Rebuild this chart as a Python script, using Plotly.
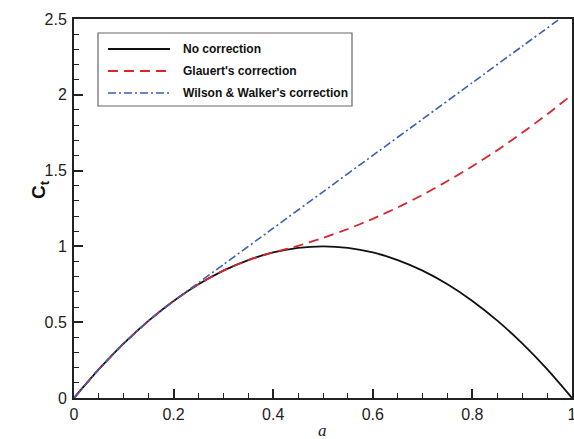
import plotly.graph_objects as go

# Axial induction factor a
a_vals = [0.00, 0.05, 0.10, 0.15, 0.20, 0.25, 0.30, 0.35, 0.40, 0.45, 0.50,
          0.55, 0.60, 0.65, 0.70, 0.75, 0.80, 0.85, 0.90, 0.95, 1.00]
# Thrust coefficient, no correction
ct_none = [0.00, 0.19, 0.36, 0.51, 0.64, 0.75, 0.84, 0.91, 0.96, 0.99, 1.00,
           0.99, 0.96, 0.91, 0.84, 0.75, 0.64, 0.51, 0.36, 0.19, 0.00]
# Glauert's correction
ct_glauert = [0.00, 0.19, 0.36, 0.51, 0.64, 0.75, 0.84, 0.91, 0.96, 1.004, 1.056,
              1.115, 1.182, 1.257, 1.340, 1.431, 1.529, 1.635, 1.749, 1.871, 2.00]
# Wilson & Walker's correction
a_ww = [0.00, 0.05, 0.10, 0.15, 0.20, 0.25, 0.30, 0.40, 0.50, 0.60, 0.70, 0.80, 0.90, 1.00]
ct_ww = [0.00, 0.19, 0.36, 0.51, 0.64, 0.76, 0.88, 1.12, 1.36, 1.60, 1.84, 2.08, 2.32, 2.56]

names = ["No correction", "Glauert's correction", "Wilson & Walker's correction"]
colors = ["#111111", "#d7262b", "#3a5fb5"]
dashes = ["solid", "10px,6px", "8px,3px,2px,3px"]
widths = [1.8, 1.8, 1.6]

W, H = 574, 439
L, R, T, B = 74, 2, 19, 41
pw, ph = W - L - R, H - T - B

# helpers to convert page pixel positions into paper coordinates
def px(x):
    return (x - L) / pw

def py(y):
    return (H - B - y) / ph

fig = go.Figure()
series = [(a_vals, ct_none), (a_vals, ct_glauert), (a_ww, ct_ww)]
for (xs, ys), n, c, d, w in zip(series, names, colors, dashes, widths):
    fig.add_trace(go.Scatter(x=xs, y=ys, mode="lines", name=n,
                             line=dict(color=c, dash=d, width=w, shape="spline", smoothing=0.6),
                             showlegend=False, cliponaxis=True))

# custom legend box
shapes = [dict(type="rect", xref="paper", yref="paper",
               x0=px(98), x1=px(352), y0=py(106), y1=py(33),
               line=dict(color="#666666", width=1.2), fillcolor="white", layer="below")]
annotations = []
rows = [49, 71, 93]
for n, c, d, w, ry in zip(names, colors, dashes, widths, rows):
    shapes.append(dict(type="line", xref="paper", yref="paper",
                       x0=px(108), x1=px(170), y0=py(ry), y1=py(ry),
                       line=dict(color=c, dash=d, width=w)))
    annotations.append(dict(xref="paper", yref="paper", x=px(181), y=py(ry),
                            xanchor="left", yanchor="middle", showarrow=False,
                            text="<b>" + n + "</b>",
                            font=dict(family="Liberation Sans, Arial", size=12, color="#111111")))

annotations.append(dict(xref="paper", yref="paper", x=px(40), y=py(190),
                        xanchor="center", yanchor="middle", showarrow=False, textangle=-90,
                        text="<b>C<sub>t</sub></b>",
                        font=dict(family="Liberation Sans, Arial", size=19, color="#111111")))
annotations.append(dict(xref="paper", yref="paper", x=px(322), y=py(430),
                        xanchor="center", yanchor="middle", showarrow=False,
                        text="<i>a</i>",
                        font=dict(family="Liberation Serif, Times New Roman", size=17, color="#222222")))

tickfont = dict(family="Liberation Sans, Arial", size=16, color="#222222")
fig.update_layout(
    width=W, height=H,
    margin=dict(l=L, r=R, t=T, b=B),
    paper_bgcolor="white", plot_bgcolor="white",
    shapes=shapes, annotations=annotations,
    xaxis=dict(range=[0, 1], tickmode="array",
               tickvals=[0, 0.2, 0.4, 0.6, 0.8, 1.0],
               ticktext=["0", "0.2", "0.4", "0.6", "0.8", "1"],
               ticks="inside", ticklen=9, tickwidth=1.5, tickcolor="#222222",
               minor=dict(dtick=0.05, ticks="inside", ticklen=5, tickwidth=1.2, tickcolor="#222222", showgrid=False),
               showline=True, linecolor="#222222", linewidth=2, mirror=True,
               showgrid=False, zeroline=False, tickfont=tickfont, automargin=False,
               ticklabelstandoff=1, ticklabeloverflow="allow"),
    yaxis=dict(range=[0, 2.5], tickmode="array",
               tickvals=[0, 0.5, 1, 1.5, 2, 2.5],
               ticktext=["0", "0.5", "1", "1.5", "2", "2.5"],
               ticks="inside", ticklen=9, tickwidth=1.5, tickcolor="#222222",
               minor=dict(dtick=0.1, ticks="inside", ticklen=5, tickwidth=1.2, tickcolor="#222222", showgrid=False),
               showline=True, linecolor="#222222", linewidth=2, mirror=True,
               showgrid=False, zeroline=False, tickfont=tickfont, automargin=False,
               ticklabelstandoff=2, ticklabeloverflow="allow"),
)

fig.write_html("out.html", config={"displayModeBar": False},
               post_script="document.body.style.margin='0';document.body.style.overflow='hidden';"
                           "document.documentElement.style.overflow='hidden';")
